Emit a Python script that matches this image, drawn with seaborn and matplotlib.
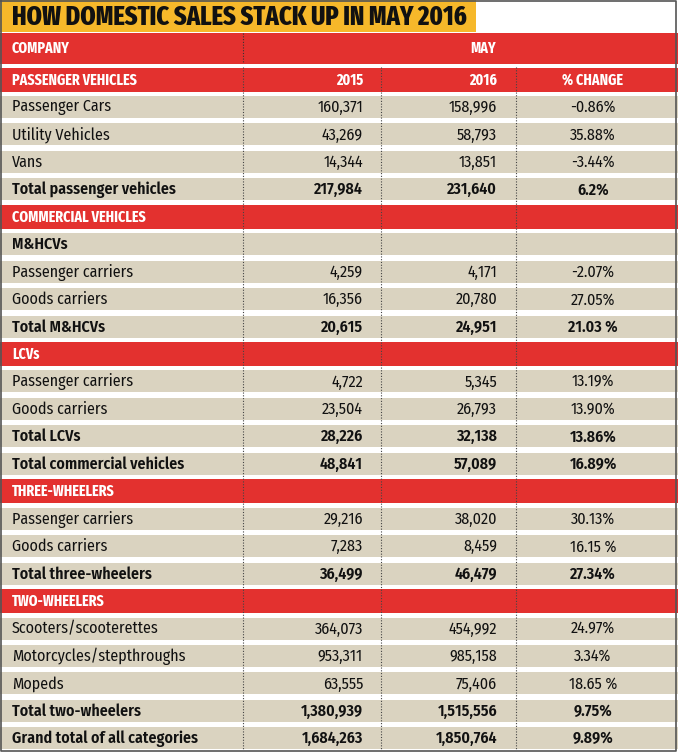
import matplotlib
matplotlib.use("Agg")
import matplotlib.pyplot as plt
import seaborn as sns

sns.set_theme(style="white")
plt.rcParams['font.family'] = ['Fira Sans Condensed', 'DejaVu Sans']
HEAD_FONT = ['Fira Sans Extra Condensed', 'DejaVu Sans']

# table content
title = "HOW DOMESTIC SALES STACK UP IN MAY 2016"
labels = ["PASSENGER VEHICLES", "Passenger Cars", "Utility Vehicles", "Vans",
          "Total passenger vehicles", "COMMERCIAL VEHICLES", "M&HCVs",
          "Passenger carriers", "Goods carriers", "Total M&HCVs", "LCVs",
          "Passenger carriers", "Goods carriers", "Total LCVs",
          "Total commercial vehicles", "THREE-WHEELERS", "Passenger carriers",
          "Goods carriers", "Total three-wheelers", "TWO-WHEELERS",
          "Scooters/scooterettes", "Motorcycles/stepthroughs", "Mopeds",
          "Total two-wheelers", "Grand total of all categories"]
kinds = ["head", "item", "item", "item", "total", "head", "sub", "item", "item",
         "total", "head", "item", "item", "total", "total", "head", "item",
         "item", "total", "head", "item", "item", "item", "total", "total"]
sales_2015 = [None, 160371, 43269, 14344, 217984, None, None, 4259, 16356, 20615,
              None, 4722, 23504, 28226, 48841, None, 29216, 7283, 36499, None,
              364073, 953311, 63555, 1380939, 1684263]
sales_2016 = [None, 158996, 58793, 13851, 231640, None, None, 4171, 20780, 24951,
              None, 5345, 26793, 32138, 57089, None, 38020, 8459, 46479, None,
              454992, 985158, 75406, 1515556, 1850764]
pct_change = [None, "-0.86%", "35.88%", "-3.44%", "6.2%", None, None, "-2.07%",
              "27.05%", "21.03 %", None, "13.19%", "13.90%", "13.86%", "16.89%",
              None, "30.13%", "16.15 %", "27.34%", None, "24.97%", "3.34%",
              "18.65 %", "9.75%", "9.89%"]
col_heads = ["2015", "2016", "% CHANGE"]

RED = "#e3312f"
BEIGE = "#dad3c0"
YELLOW = "#f6b82a"
W, H = 678, 752
BODY_FS, HEAD_FS = 11.5, 11

fig = plt.figure(figsize=(W / 100, H / 100), dpi=100)
ax = fig.add_axes([0, 0, 1, 1])
ax.set_xlim(0, W)
ax.set_ylim(H, 0)
ax.axis("off")

# title strip
ax.barh(16, 476, height=32, left=0, color=YELLOW, lw=0)
ax.text(12, 17.5, title, fontsize=19, fontweight="heavy", color="#111",
        va="center", ha="left", family=HEAD_FONT)

# COMPANY / MAY header
ax.barh(48, W, height=31, left=0, color=RED, lw=0)
ax.text(12, 48, "COMPANY", fontsize=HEAD_FS, fontweight="bold", color="white",
        va="center", family=HEAD_FONT)
ax.text(483, 48, "MAY", fontsize=HEAD_FS, fontweight="bold", color="white",
        va="center", ha="center", family=HEAD_FONT)
ax.plot([243, 243], [33, 63], color="#333", lw=0.8, ls=(0, (1, 1.5)))

y0, step = 79.5, 27.45
ys = [y0 + step * i for i in range(len(labels))]
colors = [RED if k == "head" else BEIGE for k in kinds]
ax.barh(ys, W, height=[24 if k == "head" else 22 for k in kinds], left=0,
        color=colors, lw=0)

# dotted column lines
for xc in (243, 381, 516):
    ax.plot([xc, xc], [67, 750], color="#444", lw=0.8, ls=(0, (1, 1.5)), zorder=3)

x_r15, x_r16, x_pct = 363, 497, 593
for i, (lab, kind) in enumerate(zip(labels, kinds)):
    y = ys[i] + 0.5
    if kind == "head":
        ax.text(12, y, lab, fontsize=HEAD_FS, fontweight="bold", color="white",
                va="center", family=HEAD_FONT)
        if i == 0:
            for xx, txt, ha in zip((x_r15, x_r16, x_pct), col_heads, ("right", "right", "center")):
                ax.text(xx, y, txt, fontsize=HEAD_FS, fontweight="bold", color="white",
                        va="center", ha=ha, family=HEAD_FONT)
        continue
    weight = "semibold" if kind in ("total", "sub") else "normal"
    ax.text(12, y, lab, fontsize=BODY_FS, fontweight=weight, color="#111", va="center")
    if sales_2015[i] is not None:
        ax.text(x_r15, y, f"{sales_2015[i]:,}", fontsize=BODY_FS, fontweight=weight,
                color="#111", va="center", ha="right")
        ax.text(x_r16, y, f"{sales_2016[i]:,}", fontsize=BODY_FS, fontweight=weight,
                color="#111", va="center", ha="right")
        ax.text(x_pct, y, pct_change[i], fontsize=BODY_FS, fontweight=weight,
                color="#111", va="center", ha="center")

# outer frame
ax.plot([1, 1, W - 2, W - 2, 1], [0.5, H - 1.5, H - 1.5, 0.5, 0.5], color="#555", lw=1.2,
        zorder=4)

fig.savefig("out.png", dpi=100)
